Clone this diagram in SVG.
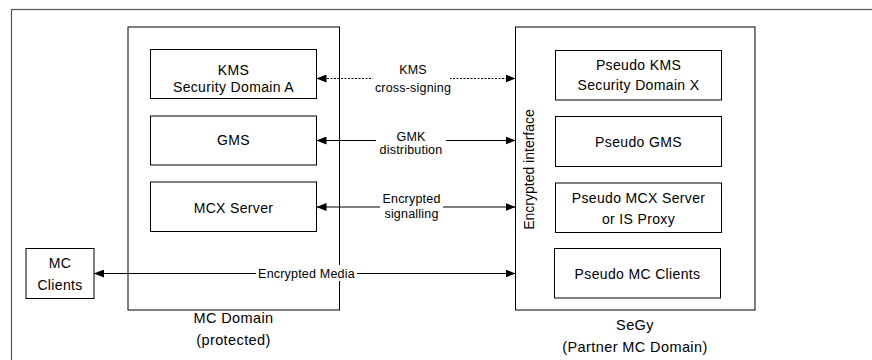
<svg xmlns="http://www.w3.org/2000/svg" width="872" height="360" viewBox="0 0 872 360">
<defs>
<marker id="ah" viewBox="0 0 10 8" refX="10" refY="4" markerWidth="10" markerHeight="8" markerUnits="userSpaceOnUse" orient="auto-start-reverse">
<path d="M0,0 L10,4 L0,8 Z" fill="#000"/>
</marker>
</defs>
<style>
.box{fill:#fff;stroke:#000;stroke-width:1}
.frame{fill:none;stroke:#555;stroke-width:1.2}
.t{font-family:"Liberation Sans",Arial,sans-serif;font-size:14px;fill:#000;text-anchor:middle;letter-spacing:0.35px}
.lbl{font-family:"Liberation Sans",Arial,sans-serif;font-size:12.5px;fill:#000;text-anchor:middle;letter-spacing:0.2px}
.big{font-family:"Liberation Sans",Arial,sans-serif;font-size:14.5px;fill:#000;text-anchor:middle;letter-spacing:0.4px}
.c{fill:none;stroke:#000;stroke-width:1}
.d{stroke-dasharray:2 1.5}
.bg{fill:#fff;stroke:none}
</style>
<rect width="872" height="360" fill="#fff"/>
<rect class="frame" x="11.5" y="9.5" width="880" height="380"/>

<g id="mc-domain">
<rect class="box" x="128" y="27" width="211.5" height="283"/>
<text class="big" x="233.5" y="323">MC Domain</text>
<text class="big" x="233.5" y="345">(protected)</text>
</g>
<g id="segy">
<rect class="box" x="515.5" y="27" width="239.5" height="283"/>
<text class="t" x="529" y="169.5" transform="rotate(-90 529 169.5)" dy="4.5" style="letter-spacing:0">Encrypted interface</text>
<text class="big" x="635" y="330">SeGy</text>
<text class="big" x="635" y="352">(Partner MC Domain)</text>
</g>

<g id="kms">
<rect class="box" x="150.5" y="49.5" width="166" height="49"/>
<text class="t" x="233.5" y="75">KMS</text>
<text class="t" x="233.5" y="92">Security Domain A</text>
</g>
<g id="gms">
<rect class="box" x="150.5" y="116" width="166" height="49"/>
<text class="t" x="233.5" y="145">GMS</text>
</g>
<g id="mcx-server">
<rect class="box" x="150.5" y="182" width="166" height="49.5"/>
<text class="t" x="233.5" y="212.5">MCX Server</text>
</g>
<g id="mc-clients">
<rect class="box" x="26" y="248.5" width="68" height="50"/>
<text class="t" x="60" y="267.5">MC</text>
<text class="t" x="60" y="290">Clients</text>
</g>

<g id="pseudo-kms">
<rect class="box" x="555.5" y="50.5" width="166" height="49.5"/>
<text class="t" x="638.5" y="70">Pseudo KMS</text>
<text class="t" x="638.5" y="90">Security Domain X</text>
</g>
<g id="pseudo-gms">
<rect class="box" x="555.5" y="116.5" width="166" height="50"/>
<text class="t" x="638.5" y="146.5">Pseudo GMS</text>
</g>
<g id="pseudo-mcx">
<rect class="box" x="555.5" y="183" width="166" height="49.5"/>
<text class="t" x="638.5" y="203">Pseudo MCX Server</text>
<text class="t" x="638.5" y="224">or IS Proxy</text>
</g>
<g id="pseudo-mc-clients">
<rect class="box" x="554.5" y="248.5" width="166" height="49.5"/>
<text class="t" x="637.5" y="279">Pseudo MC Clients</text>
</g>

<g id="connectors">
<line class="c d" x1="316.5" y1="78.5" x2="515.5" y2="78.5" marker-start="url(#ah)" marker-end="url(#ah)"/>
<line class="c" x1="316.5" y1="140.5" x2="515.5" y2="140.5" marker-start="url(#ah)" marker-end="url(#ah)"/>
<line class="c" x1="316.5" y1="207" x2="515.5" y2="207" marker-start="url(#ah)" marker-end="url(#ah)"/>
<line class="c" x1="94" y1="273.5" x2="515.5" y2="273.5" marker-start="url(#ah)" marker-end="url(#ah)"/>
<rect class="bg" x="373" y="62" width="77" height="33"/>
<rect class="bg" x="376" y="128" width="70" height="28"/>
<rect class="bg" x="380" y="192" width="63" height="30"/>
<rect class="bg" x="256" y="265" width="101" height="16"/>
<text class="lbl" x="413" y="74">KMS</text>
<text class="lbl" x="413" y="91.5">cross-signing</text>
<text class="lbl" x="411" y="140.5">GMK</text>
<text class="lbl" x="411" y="154">distribution</text>
<text class="lbl" x="411.5" y="202.5">Encrypted</text>
<text class="lbl" x="411.5" y="218">signalling</text>
<text class="lbl" x="306.5" y="278">Encrypted Media</text>
</g>
</svg>
